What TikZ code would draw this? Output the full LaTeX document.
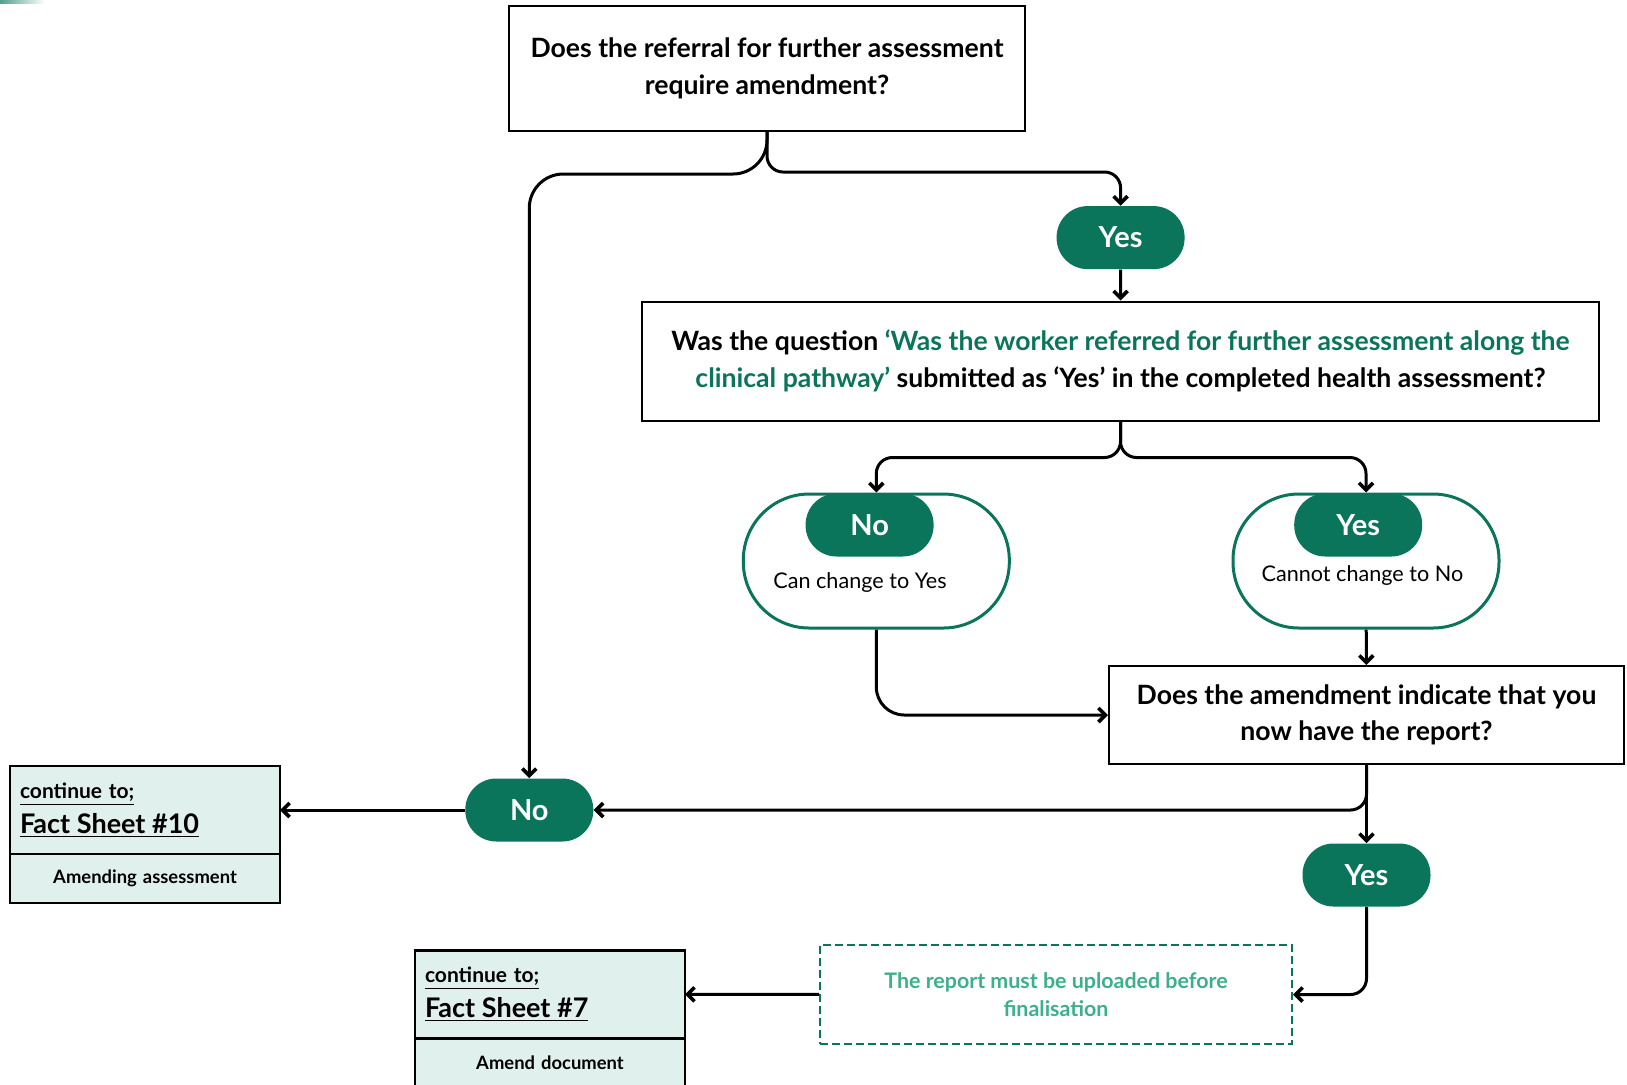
\documentclass[tikz,border=0pt]{standalone}
\usepackage{fontspec}
\setmainfont{Lato}
\usepackage{tikz}
\usetikzlibrary{positioning, arrows.meta}

\definecolor{darkteal}{HTML}{0A755B}
\definecolor{paleteal}{HTML}{E0F0EC}
\definecolor{noteteal}{HTML}{3CB08C}

\tikzset{
  question/.style={draw=black, line width=1pt, align=center, inner sep=0pt,
                   font=\bfseries\fontsize{13.3}{18.2}\selectfont},
  answer/.style={fill=darkteal, text=white, rounded corners=15.5pt, minimum width=64pt,
                 minimum height=31.5pt, inner sep=0pt, font=\bfseries\fontsize{14.5}{16}\selectfont},
  outcome/.style={draw=darkteal, line width=1.5pt, rounded corners=33pt, minimum width=133pt,
                  minimum height=67pt, inner sep=0pt},
  flow/.style={line width=1.5pt, -{Straight Barb[length=3.5pt,width=7pt,line width=1.8pt]},
               rounded corners=8pt},
  sheettop/.style={draw=black, line width=1.2pt, fill=paleteal, minimum height=44pt, outer sep=0pt,
                   text width=125pt, inner xsep=5pt, align=left, font=\bfseries},
  sheetbot/.style={draw=black, line width=1.2pt, fill=paleteal, minimum height=24.5pt, outer sep=0pt,
                   text width=125pt, inner xsep=5pt, align=center,
                   font=\bfseries\fontsize{9.2}{11}\selectfont},
}

\begin{document}
\begin{tikzpicture}[x=0.5pt, y=-0.5pt]
    \useasboundingbox (0,0) rectangle (1627,1084);
    \shade[left color=darkteal!70, right color=white] (0,0) rectangle (45,3);

    % questions
    \node[question, minimum width=257.75pt, minimum height=62.5pt] (refer) at (767,68.5)
        {Does the referral for further assessment\\require amendment?};
    \node[question, minimum width=478.5pt, minimum height=59.5pt] (pathway) at (1120.5,361)
        {Was the question \textcolor{darkteal}{‘Was the worker referred for further assessment along the}\\
         \textcolor{darkteal}{clinical pathway’} submitted as ‘Yes’ in the completed health assessment?};
    \node[question, minimum width=257.5pt, minimum height=49pt] (report) at (1366.5,715)
        {Does the amendment indicate that you\\now have the report?};

    % outcomes of the pathway question
    \node[outcome] (nocase) at (876.3,561) {};
    \node[answer] (nopath) at (869.6,525) {No};
    \node[font=\fontsize{10.8}{12}\selectfont] (nochange) at (860,582) {Can change to Yes};
    \node[outcome] (yescase) at (1366,561) {};
    \node[answer] (yespath) at (1358.2,525) {Yes};
    \node[font=\fontsize{10.8}{12}\selectfont] (yeschange) at (1362.4,575) {Cannot change to No};

    % answers
    \node[answer] (yesrefer) at (1120.6,237.6) {Yes};
    \node[answer] (noreport) at (529.3,810) {No};
    \node[answer] (yesreport) at (1366.5,875) {Yes};

    \node[draw=darkteal, line width=1pt, dash pattern=on 4pt off 2pt, text=noteteal,
          font=\bfseries\fontsize{10.7}{14}\selectfont, align=center,
          minimum width=236pt, minimum height=49.5pt] (upload) at (1056,994.5)
        {The report must be uploaded before\\finalisation};

    % fact sheets
    \node[sheettop] (sheetten) at (145,810)
        {{\fontsize{10.5}{12}\selectfont\underline{continue to;}}\\[3pt]
         {\fontsize{13.5}{16}\selectfont\underline{Fact Sheet \#10}}};
    \node[sheetbot, below=0pt of sheetten] (sheettenb) {Amending assessment};
    \node[sheettop] (sheetseven) at (550,994.3)
        {{\fontsize{10.5}{12}\selectfont\underline{continue to;}}\\[3pt]
         {\fontsize{13.5}{16}\selectfont\underline{Fact Sheet \#7}}};
    \node[sheetbot, below=0pt of sheetseven] (sheetsevenb) {Amend document};

    % connectors
    \draw[flow, rounded corners=17pt] (refer.south) -- ++(0,42) -| (noreport.north);
    \draw[flow] (refer.south) -- ++(0,40) -| (yesrefer.north);
    \draw[flow] (yesrefer) -- (pathway);
    \draw[flow] (pathway.south) -- ++(0,36) -| (nocase.north);
    \draw[flow] (pathway.south) -- ++(0,36) -| (yescase.north);
    \draw[flow, rounded corners=14pt] (nocase.south) |- (report.west);
    \draw[flow] (yescase) -- (report);
    \draw[flow] (report.south) |- (noreport.east);
    \draw[flow] (report) -- (yesreport);
    \draw[flow] (noreport) -- (sheetten);
    \draw[flow] (yesreport.south) |- (upload.east);
    \draw[flow] (upload) -- (sheetseven);
\end{tikzpicture}
\end{document}
